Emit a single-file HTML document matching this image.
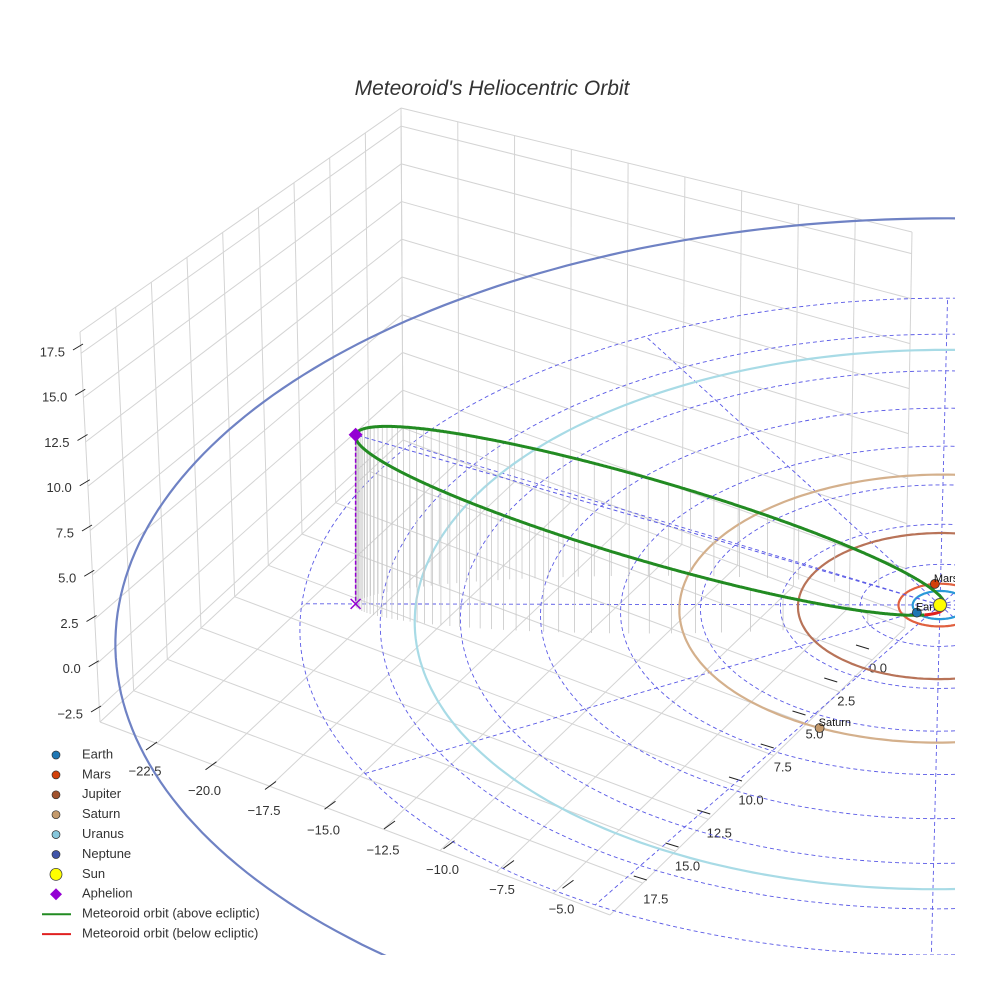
<!DOCTYPE html>
<html><head><meta charset="utf-8"><style>
html,body{margin:0;padding:0;background:#fff;width:984px;height:984px;overflow:hidden;}
svg{display:block;font-family:"Liberation Sans",sans-serif;}
</style></head><body>
<svg id="chart" width="984" height="984" viewBox="0 0 984 984" xmlns="http://www.w3.org/2000/svg">
<defs><clipPath id="plotclip"><rect x="0" y="0" width="955" height="955"/></clipPath></defs>
<text x="492" y="95" text-anchor="middle" font-size="21" font-style="italic" fill="#333">Meteoroid's Heliocentric Orbit</text>
<g id="box"></g>
<g id="ticks"></g>
<g id="data" clip-path="url(#plotclip)"></g>
<g id="legend"></g>
</svg>
<script>
// ---- data ----
const xTicks = [-22.5,-20,-17.5,-15,-12.5,-10,-7.5,-5];
const yTicks = [0,2.5,5,7.5,10,12.5,15,17.5];
const zTicks = [-2.5,0,2.5,5,7.5,10,12.5,15,17.5];
const planetNames = ["Earth","Mars","Jupiter","Saturn","Uranus","Neptune"];
const planetRadii = [1.0,1.52,5.2,9.54,19.2,30.07];
const planetAngles = [116,-129,-20,85,-40,-30];
const planetColors = ["#1f77b4","#d2400a","#a0522d","#c49a6c","#87c7dc","#4054a8"];
const orbitColors = ["#2a9ad8","#e0603f","#b87358","#d4b08c","#a8dbe6","#6f82c4"];
const labeledPlanets = ["Earth","Mars","Saturn"];
const perihelionDist = [0.2];
const aphelionDist = [23.38];
const aphelionLon = [148.9];
const aphelionLat = [23.7];
const planeTilt = [18];
const gridRings = [1,2,3,4,5,6,7,8];
const gridSpokes = [0,1,2,3,4,5,6,7,8,9,10,11];

const NS="http://www.w3.org/2000/svg";
function mk(tag,attrs,parent){const e=document.createElementNS(NS,tag);for(const k in attrs)e.setAttribute(k,attrs[k]);parent.appendChild(e);return e;}
function proj(x,y,z){const dx=23.2*x-14.4*y, dy=7.3*x+12*y; const s=1+0.0002*dy; return [940+s*dx, 605+s*(dy-18*z)];}
function pts(arr){return arr.map(p=>p[0].toFixed(1)+","+p[1].toFixed(1)).join(" ");}
function inside(p){return p[0]>=-2&&p[0]<=962&&p[1]>=-2&&p[1]<=962;}
// split a screen polyline into runs that stay inside the frame
function runs(arr){const out=[];let cur=[];for(let i=0;i<arr.length;i++){if(inside(arr[i])){cur.push(arr[i]);}else{if(cur.length){cur.push(arr[i]);out.push(cur);cur=[];}else if(i+1<arr.length&&inside(arr[i+1])){cur=[arr[i]];}}}
  if(cur.length>1)out.push(cur);return out.map(r=>r.map(p=>[Math.max(-2,Math.min(962,p[0])),Math.max(-2,Math.min(962,p[1]))]));}
function xAxisPos(v){return [145+(v+22.5)*23.8, 772+(v+22.5)*7.9];}
function yAxisPos(v){return [878-v*12.7, 669+v*13.2];}
function zAxisPos(v){return [65-(v-17.5)*0.9, 353-(v-17.5)*18.1];}

// ---- box grid ----
const box=document.getElementById('box');
function lerp(a,b,t){return [a[0]+(b[0]-a[0])*t,a[1]+(b[1]-a[1])*t];}
const LT=[80,332],BT=[401,108],RT=[912,232],LB=[100,722],BB=[403,440],RB=[905,628],FB=[610,915];
function wall(A,B,C,D,nu,vfr,name){
  for(let i=0;i<=nu;i++){const u=i/nu;const p=lerp(A,B,u),q=lerp(D,C,u);
    const l=mk('line',{x1:p[0],y1:p[1],x2:q[0],y2:q[1],stroke:'#d4d4d4','stroke-width':1},box);
    
    }
  vfr.forEach(v=>{const p=lerp(A,D,v),q=lerp(B,C,v);
    const l=mk('line',{x1:p[0],y1:p[1],x2:q[0],y2:q[1],stroke:'#d4d4d4','stroke-width':1},box);
    
    });
}
const zfr=[0].concat(zTicks.slice().reverse().map(z=>(18.7-z)/22));
wall(LT,BT,BB,LB,9,zfr,'left-wall');
wall(BT,RT,RB,BB,9,zfr,'right-wall');
for(let i=0;i<=9;i++){const u=i/9;
  let p=lerp(LB,FB,u),q=lerp(BB,RB,u);
  let l=mk('line',{x1:p[0],y1:p[1],x2:q[0],y2:q[1],stroke:'#d4d4d4','stroke-width':1},box);
  
  
  p=lerp(LB,BB,u);q=lerp(FB,RB,u);
  l=mk('line',{x1:p[0],y1:p[1],x2:q[0],y2:q[1],stroke:'#d4d4d4','stroke-width':1},box);
  
  }

// ---- ticks ----
const tk=document.getElementById('ticks');
function tlabel(x,y,t,anchor,name){const e=mk('text',{x:x,y:y,'font-size':13,fill:'#333','text-anchor':anchor,'dominant-baseline':'middle'},tk);e.textContent=t;
  
  }
function fmt(v){return (v<0?"\u2212":"")+Math.abs(v).toFixed(1);}
xTicks.forEach(v=>{const p=xAxisPos(v);
  const l=mk('line',{x1:p[0]+1,y1:p[1]-22,x2:p[0]+12,y2:p[1]-30,stroke:'#222','stroke-width':1},tk);
  
  
  tlabel(p[0],p[1],fmt(v),'middle','x-tick-label');});
yTicks.forEach(v=>{const p=yAxisPos(v);
  const l=mk('line',{x1:p[0]-22,y1:p[1]-24,x2:p[0]-9,y2:p[1]-20,stroke:'#222','stroke-width':1},tk);
  
  
  tlabel(p[0],p[1],fmt(v),'middle','y-tick-label');});
zTicks.forEach(v=>{const p=zAxisPos(v);
  const l=mk('line',{x1:p[0]+8,y1:p[1]-3,x2:p[0]+18,y2:p[1]-9,stroke:'#222','stroke-width':1},tk);
  
  
  tlabel(p[0],p[1],fmt(v),'end','z-tick-label');});

// ---- data layer ----
const dg=document.getElementById('data');
const d2r=Math.PI/180;
const Q=aphelionDist[0], q=perihelionDist[0];
const lam=aphelionLon[0]*d2r, bet=aphelionLat[0]*d2r, phi=planeTilt[0]*d2r;
const aph=[Q*Math.cos(bet)*Math.cos(lam),Q*Math.cos(bet)*Math.sin(lam),Q*Math.sin(bet)];
const Rmax=Q;
function drawRuns(arr,attrs,name){runs(arr).forEach(r=>{const e=mk('polyline',Object.assign({points:pts(r),fill:'none'},attrs),dg);
  
  });}
gridRings.forEach(k=>{const r=Rmax*k/8;const a=[];for(let i=0;i<=240;i++){const t=i/240*2*Math.PI;a.push(proj(r*Math.cos(t),r*Math.sin(t),0));}
  drawRuns(a,{stroke:'#5a5ae6','stroke-width':0.9,'stroke-dasharray':'4,3'},'ecliptic-grid-ring');});
gridSpokes.forEach(k=>{const t=lam+k*30*d2r;const a=[];for(let i=0;i<=60;i++){const r=Rmax*i/60;a.push(proj(r*Math.cos(t),r*Math.sin(t),0));}
  drawRuns(a,{stroke:'#5a5ae6','stroke-width':0.9,'stroke-dasharray':'4,3'},'ecliptic-grid-spoke');});
planetNames.forEach((n,i)=>{const r=planetRadii[i];const a=[];for(let j=0;j<=300;j++){const t=j/300*2*Math.PI;a.push(proj(r*Math.cos(t),r*Math.sin(t),0));}
  drawRuns(a,{stroke:orbitColors[i],'stroke-width':2.2},n.toLowerCase()+'-orbit');});
const a=(Q+q)/2, ecc=(Q-q)/(Q+q), b=a*Math.sqrt(1-ecc*ecc);
const u=[aph[0]/Q,aph[1]/Q,aph[2]/Q];
const wg=[-Math.sin(lam),Math.cos(lam),0];
const n=[-Math.cos(lam)*Math.sin(bet),-Math.sin(lam)*Math.sin(bet),Math.cos(bet)];
const w=[0,1,2].map(i=>Math.cos(phi)*wg[i]+Math.sin(phi)*n[i]);
function orbitPt(E){const c=a*(Math.cos(E)-ecc), s=b*Math.sin(E);return [0,1,2].map(i=>-c*u[i]+s*w[i]);}
for(let k=0;k<90;k++){const M=k/90*2*Math.PI;let E=M;for(let it=0;it<50;it++)E=E-(E-ecc*Math.sin(E)-M)/(1-ecc*Math.cos(E));
  const P=orbitPt(E);if(P[2]<=0.05)continue;const p0=proj(P[0],P[1],P[2]),p1=proj(P[0],P[1],0);
  const e=mk('line',{x1:p0[0],y1:p0[1],x2:p1[0],y2:p1[1],stroke:'#c8c8c8','stroke-width':0.8},dg);
  
  }
{const p0=proj(0,0,0),p1=proj(aph[0],aph[1],aph[2]);
 const e=mk('line',{x1:p0[0],y1:p0[1],x2:p1[0],y2:p1[1],stroke:'#5a5ae6','stroke-width':1,'stroke-dasharray':'4,3'},dg);
 
 }
{let seg=[],above=null;
 function flush(){if(seg.length>1){const e=mk('polyline',{points:pts(seg),fill:'none',stroke:above?'#228b22':'#e02020','stroke-width':3,'stroke-linejoin':'round'},dg);
   
   }}
 for(let i=0;i<=1440;i++){const E=i/1440*2*Math.PI;const P=orbitPt(E);const ab=P[2]>=0;const sp=proj(P[0],P[1],P[2]);
   if(above===null)above=ab;
   if(ab!==above){seg.push(sp);flush();seg=[sp];above=ab;}else seg.push(sp);}
 flush();}
{const p1=proj(aph[0],aph[1],aph[2]),p0=proj(aph[0],aph[1],0);
 let e=mk('line',{x1:p1[0],y1:p1[1],x2:p0[0],y2:p0[1],stroke:'#9400d3','stroke-width':1.5,'stroke-dasharray':'4,2'},dg);
 
 
 e=mk('path',{d:`M${p0[0]-5},${p0[1]-5}L${p0[0]+5},${p0[1]+5}M${p0[0]-5},${p0[1]+5}L${p0[0]+5},${p0[1]-5}`,stroke:'#9400d3','stroke-width':1.5},dg);
 
 
 e=mk('path',{d:`M${p1[0]},${p1[1]-7}L${p1[0]+7},${p1[1]}L${p1[0]},${p1[1]+7}L${p1[0]-7},${p1[1]}Z`,fill:'#9400d3'},dg);
 
 }
planetNames.forEach((nm,i)=>{const t=planetAngles[i]*d2r,r=planetRadii[i];const p=proj(r*Math.cos(t),r*Math.sin(t),0);
  if(!inside(p))return;
  const e=mk('circle',{cx:p[0],cy:p[1],r:4.5,fill:planetColors[i],stroke:'#333','stroke-width':0.8},dg);
  
  
  if(labeledPlanets.includes(nm)){const tx=mk('text',{x:p[0]-1,y:p[1]-2,'font-size':11,fill:'#111'},dg);tx.textContent=nm;
    
    }});
{const p=proj(0,0,0);const e=mk('circle',{cx:p[0],cy:p[1],r:6.5,fill:'#ffff00',stroke:'#555','stroke-width':1},dg);
 
 }

// ---- legend ----
const lg=document.getElementById('legend');
const legItems=planetNames.map((nm,i)=>({t:nm,k:'dot',c:planetColors[i]})).concat([
 {t:'Sun',k:'sun',c:'#ffff00'},{t:'Aphelion',k:'dia',c:'#9400d3'},
 {t:'Meteoroid orbit (above ecliptic)',k:'line',c:'#228b22'},{t:'Meteoroid orbit (below ecliptic)',k:'line',c:'#e02020'}]);
legItems.forEach((it,i)=>{const y=755+i*19.9;const g=mk('g',{},lg);
  
  
  if(it.k==='dot')mk('circle',{cx:56,cy:y,r:4,fill:it.c,stroke:'#333','stroke-width':0.7},g);
  else if(it.k==='sun')mk('circle',{cx:56,cy:y,r:6,fill:it.c,stroke:'#444','stroke-width':0.8},g);
  else if(it.k==='dia')mk('path',{d:`M56,${y-6}L62,${y}L56,${y+6}L50,${y}Z`,fill:it.c},g);
  else mk('line',{x1:42,y1:y,x2:71,y2:y,stroke:it.c,'stroke-width':2},g);
  const t=mk('text',{x:82,y:y,'font-size':13,fill:'#333','dominant-baseline':'middle'},g);t.textContent=it.t;});
</script>
</body></html>
